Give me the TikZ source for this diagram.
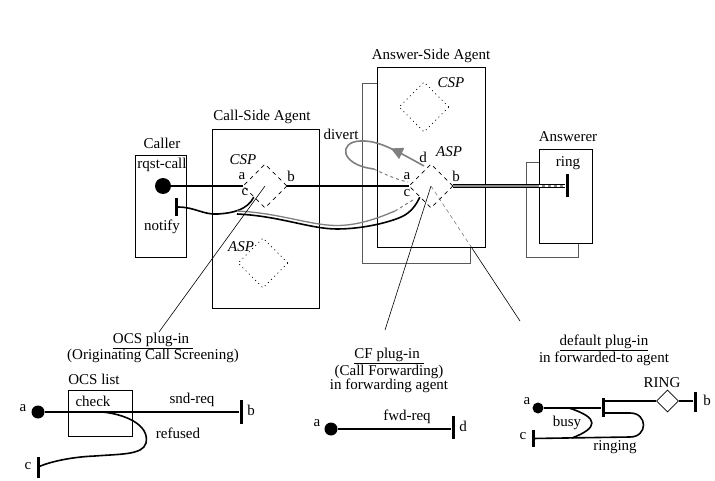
\documentclass[tikz,border=0pt]{standalone}
\usepackage{fontspec}
\setmainfont{Liberation Serif}
\usetikzlibrary{arrows.meta,calc,shapes.geometric,decorations.markings}
\newcommand\dgfont{\fontsize{15}{17}\selectfont}

\begin{document}
\begin{tikzpicture}[x=1pt,y=-1pt,>=Stealth,font=\dgfont,
 box/.style={draw,fill=white,line width=0.8pt,inner sep=0},
 backbox/.style={draw=black!65,line width=0.8pt,inner sep=0},
 plug/.style={diamond,draw,line width=0.7pt,inner sep=0,minimum width=44pt,minimum height=44pt,dash pattern=on 4pt off 4pt},
 idle/.style={plug,minimum width=50pt,minimum height=50pt,dash pattern=on 1pt off 3.5pt},
 tag/.style={font=\dgfont\itshape},
 plugtxt/.style={align=center,font=\fontsize{15}{14}\selectfont},
 sig/.style={line width=1.6pt},
 tee/.style={fill,inner sep=0,minimum width=3pt,minimum height=22pt},
 src/.style={circle,fill,inner sep=0,minimum size=16pt},
 lead/.style={line width=0.6pt},
 fwd/.style={black!50,line width=1.6pt}]
\useasboundingbox (0,0) rectangle (715,481);
\node[box,minimum width=51pt,minimum height=102pt] (caller) at (160.5,206) {};
\node (callerlab) at (162,143) {Caller};
\node (rqst) at (162,165) {rqst-call};
\node (notify) at (162,227) {notify};
\node[src] (rqdot) at (163,186) {};
\node[tee,minimum height=18pt] (notee) at (176,207) {};
\node[box,minimum width=107pt,minimum height=179pt] (csa) at (265.5,218.5) {};
\node (csalab) at (262,117) {Call-Side Agent};
\node[plug] (csp) at (265,186) {};
\node[idle] (casp) at (263,263) {};
\node[tag] (csplab) at (243,160) {CSP};
\node[tag] (casplab) at (241,247) {ASP};
\node (csp-a) at (242,176) {a};
\node (csp-b) at (291,176) {b};
\node (csp-c) at (245,192) {c};
\node[backbox,minimum width=108pt,minimum height=180pt] (asaback) at (416,173) {};
\node[box,minimum width=108pt,minimum height=180pt] (asa) at (431,157) {};
\node (asalab) at (431,56) {Answer-Side Agent};
\node[idle] (acsp) at (424,107) {};
\node[tag] (acsplab) at (451,83) {CSP};
\node[plug] (asp) at (431,186) {};
\node[tag] (asplab) at (449,152) {ASP};
\node (asp-d) at (423,157) {d};
\node (asp-a) at (407,176) {a};
\node (asp-b) at (456,176) {b};
\node (asp-c) at (407,193) {c};
\node (divert) at (341,134) {divert};
\node[backbox,minimum width=52pt,minimum height=95pt] (ansback) at (552,209.5) {};
\node[box,minimum width=53pt,minimum height=94pt] (ans) at (565.5,196) {};
\node (anslab) at (568,137) {Answerer};
\node (ringtxt) at (568,163) {ring};
\node[tee,minimum height=23pt] (ring) at (567,186) {};
\draw[sig] (rqdot) -- (csp.west);
\draw[sig] (csp.east) -- (asp.west);
\draw[sig] (notee) .. controls (195,207) and (203,215) .. (218,214) .. controls (233,213) and (247,210) .. (csp.south west);
\coordinate (jn) at (237,214);
\coordinate (jg) at (237,211);
\coordinate (jgd) at (395,211);
\coordinate (jge) at (413,200);
\draw[sig] (jn) .. controls (280,216) and (310,229) .. (337,229) .. controls (365,229) and (395,221) .. (405,215) .. controls (413,210) and (417,203) .. (asp.south west);
\draw[fwd,line width=1.3pt] (jg) .. controls (280,213) and (310,225.5) .. (337,225.5) .. controls (362,225.5) and (385,215) .. (jgd);
\draw[fwd,line width=1pt,dash pattern=on 3pt off 3pt] (jgd) -- (jge);
\draw[line width=1.4pt,double=black!45,double distance=2pt] (asp.east) -- (ring);
\draw[white,line width=2pt,dash pattern=on 3pt off 3pt] (ans.west |- ring) -- (ring.west);
\coordinate (dvd) at (424,166);
\coordinate (dvm) at (374,169);
\coordinate (dva) at (408,182);
\draw[fwd,postaction={decorate},decoration={markings,mark=at position 0.3 with {\arrow{Triangle[length=12pt,width=12pt]}}}] (dvd) .. controls (395,150) and (378,140) .. (360,141) .. controls (338,142) and (340,165) .. (dvm);
\draw[fwd,line width=1pt,dash pattern=on 3pt off 3pt] (dvm) .. controls (386,175) and (398,180) .. (dva);
\coordinate (ocstop) at (159,332);
\coordinate (cftop) at (385,330);
\coordinate (dftop) at (520,321);
\draw[lead] (csp.center) -- (ocstop);
\draw[lead] (asp.center) -- (cftop);
\draw[lead,black!50,dash pattern=on 4pt off 3pt] (asp.center) -- ($(asp.center)!0.45!(dftop)$) coordinate (dfmid);
\draw[lead] (dfmid) -- (dftop);
\node[plugtxt] (ocshead) at (153,348) {\underline{OCS plug-in\ }\\(Originating Call Screening)};
\node (ocslist) at (94,379) {OCS list};
\node[box,minimum width=64pt,minimum height=46pt] (ocsbox) at (100,413) {};
\node (check) at (93,401) {check};
\node[src,minimum size=13pt] (ocsa) at (38,412) {};
\node (ocsalab) at (23,408) {a};
\node[tee,minimum height=24pt] (ocsb) at (241,412) {};
\node (ocsblab) at (251,410) {b};
\node (sndreq) at (192,400) {snd-req};
\node[tee,minimum height=21pt] (ocsc) at (38,467) {};
\node (ocsclab) at (28,466) {c};
\node (refused) at (178,433) {refused};
\draw[sig] (ocsa) -- (ocsb);
\coordinate (chk) at (102,412);
\draw[sig] (chk) .. controls (125,414) and (150,425) .. (146,443) .. controls (143,455) and (120,454) .. (95,456) .. controls (70,457) and (50,462) .. (ocsc);
\node[plugtxt] (cfhead) at (389,370.5) {\underline{CF plug-in\ }\\(Call Forwarding)\\in forwarding agent};
\node[src,minimum size=13pt] (cfa) at (331,429) {};
\node (cfalab) at (317,423) {a};
\node[tee,minimum height=23pt] (cfd) at (453,427) {};
\node (cfdlab) at (463,426) {d};
\node (fwdreq) at (407,417) {fwd-req};
\draw[sig] (cfa) -- (cfa -| cfd.west);
\node[plugtxt] (dfhead) at (604,350.5) {\underline{default plug-in}\\in forwarded-to agent};
\node[src,minimum size=11pt] (dfa) at (538,408) {};
\node (dfalab) at (527,401) {a};
\node[tee,minimum height=19pt] (dfj) at (603,407.5) {};
\node[diamond,draw,line width=0.8pt,inner sep=0,minimum width=22pt,minimum height=22pt] (ringd) at (667.5,401) {};
\node (ringlab) at (662,383) {RING};
\node[tee,minimum height=20pt] (dfb) at (695,402) {};
\node (dfblab) at (707,400) {b};
\node[tee,minimum height=17pt] (dfc) at (533,438.5) {};
\node (dfclab) at (523,436) {c};
\node (busy) at (567,423) {busy};
\node (ringing) at (615,447) {ringing};
\draw[sig] (dfa) -- (dfa -| dfj.west);
\draw[sig] (dfj.east |- ringd) -- (ringd.west);
\draw[sig] (ringd.east) -- (ringd -| dfb.west);
\coordinate (dfr) at (604,413);
\draw[sig] (dfr) -- (630,413) .. controls (648,413) and (648,437) .. (630,437) -- (dfc);
\coordinate (bz1) at (569,408);
\coordinate (bz2) at (572,438);
\draw[sig] (bz1) .. controls (600,418) and (598,428) .. (bz2);
\end{tikzpicture}
\end{document}
